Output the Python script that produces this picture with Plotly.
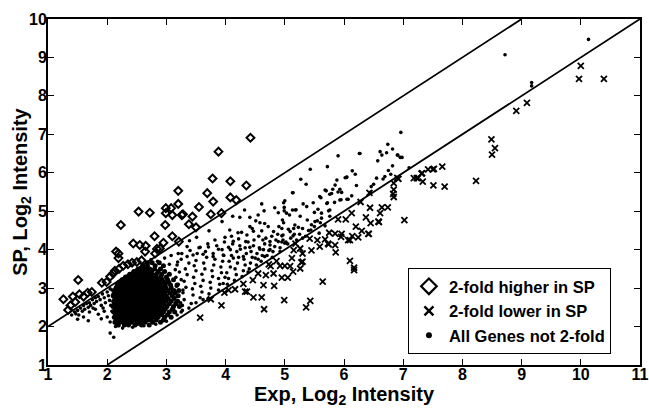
import plotly.graph_objects as go

# ---------------- data ----------------
# genes 2-fold higher in SP (open diamonds)
higher_pts = [
    (4.42, 6.91), (3.88, 6.55), (3.78, 5.85), (4.08, 5.78), (4.35, 5.67), (3.20, 5.53),
    (3.69, 5.47), (4.08, 5.36), (4.18, 5.29), (3.20, 5.19), (3.79, 5.25), (3.55, 5.11),
    (2.99, 5.08), (3.08, 5.08), (2.53, 4.99), (2.72, 4.96), (2.99, 4.95), (3.10, 4.90),
    (3.26, 4.90), (3.28, 4.92), (3.44, 4.86), (3.75, 4.92), (3.93, 4.95), (2.23, 4.64),
    (2.98, 4.64), (3.38, 4.66), (3.50, 4.58), (2.80, 4.35), (3.10, 4.35), (2.44, 4.16),
    (2.55, 4.12), (2.65, 4.10), (2.95, 4.18), (3.21, 4.21), (2.64, 3.95), (2.84, 4.02),
    (2.15, 3.95), (2.19, 3.90), (2.19, 3.78), (1.51, 3.21), (1.99, 3.16), (1.91, 3.14),
    (1.26, 2.71), (1.34, 2.43), (1.42, 2.78), (1.46, 2.64), (1.53, 2.84), (1.38, 2.55),
    (1.60, 2.78), (1.67, 2.88), (1.74, 2.90), (2.13, 3.45), (2.20, 3.50), (2.27, 3.58),
    (2.35, 3.62), (2.42, 3.66), (2.50, 3.68), (2.58, 3.72), (2.89, 4.03), (2.81, 3.90),
    (2.10, 3.38), (2.05, 3.30),
]

# genes 2-fold lower in SP (crosses)
lower_pts = [
    (10.00, 8.78), (9.97, 8.44), (10.39, 8.44), (9.09, 7.82), (8.91, 7.61), (8.49, 6.87),
    (8.55, 6.64), (8.50, 6.47), (8.23, 5.79), (7.66, 6.16), (7.52, 6.10), (7.42, 6.09),
    (7.32, 5.99), (7.23, 5.86), (7.18, 5.86), (7.33, 5.77), (7.51, 5.67), (7.70, 5.64),
    (6.92, 5.84), (6.90, 5.87), (6.84, 5.73), (6.84, 5.56), (6.83, 5.45), (6.84, 5.37),
    (6.43, 5.48), (6.28, 5.24), (6.44, 5.09), (6.64, 5.10), (6.74, 5.10), (7.02, 4.77),
    (6.61, 4.95), (6.59, 4.72), (6.45, 4.69), (6.42, 4.41), (6.37, 4.84), (6.30, 4.49),
    (6.20, 4.60), (6.13, 4.95), (6.14, 4.35), (6.10, 4.25), (6.24, 4.32), (6.03, 4.79),
    (5.90, 4.79), (5.96, 4.41), (5.85, 4.42), (5.75, 4.44), (5.73, 4.16), (5.85, 4.12),
    (5.86, 3.93), (5.68, 4.27), (6.10, 3.71), (6.17, 3.47), (5.64, 3.17), (5.43, 2.67),
    (5.36, 2.50), (4.99, 2.69), (4.65, 2.45), (4.47, 2.76), (4.61, 2.76), (4.95, 3.27),
    (5.05, 3.27), (4.82, 3.06), (5.14, 3.43), (5.26, 3.51), (5.30, 3.69), (4.68, 3.34),
    (4.55, 3.38), (4.46, 3.21), (4.64, 3.08), (4.30, 3.11), (4.33, 2.91), (4.81, 3.38),
    (4.92, 3.58), (5.00, 3.58), (4.76, 3.57), (3.57, 2.23), (3.93, 2.55), (3.75, 2.71),
    (4.16, 2.97), (4.36, 2.91), (7.31, 5.98), (7.50, 6.09), (7.25, 5.86), (6.58, 4.73),
    (6.41, 4.41), (6.07, 4.25), (5.95, 4.33), (5.74, 4.14), (5.59, 4.08), (5.55, 4.25),
    (5.42, 4.29), (5.30, 3.90), (5.26, 4.03), (5.15, 3.99), (5.45, 3.98), (5.18, 4.16),
    (5.12, 3.78), (5.28, 3.67), (6.17, 3.53), (4.86, 3.70), (5.09, 3.57), (4.73, 3.62),
    (3.98, 2.88), (4.05, 2.95),
]

# genes not 2-fold (dots): left tail
dots_tail = [
    (1.40, 2.30), (1.45, 2.38), (1.50, 2.42), (1.52, 2.30), (1.55, 2.48), (1.58, 2.40),
    (1.60, 2.55), (1.62, 2.45), (1.65, 2.60), (1.68, 2.50), (1.70, 2.62), (1.72, 2.55),
    (1.75, 2.70), (1.78, 2.60), (1.80, 2.75), (1.82, 2.65), (1.85, 2.78), (1.88, 2.70),
    (1.90, 2.55), (1.92, 2.85), (1.95, 2.75), (1.97, 2.62), (2.00, 2.90), (2.02, 2.80),
    (2.04, 2.68), (2.06, 2.55), (2.08, 2.95), (2.10, 2.85), (1.60, 2.25), (1.70, 2.38),
    (1.80, 2.45), (1.85, 2.32), (1.95, 2.40), (2.00, 2.25), (2.05, 2.12), (2.05, 1.83),
    (2.11, 1.72), (1.50, 2.19), (1.68, 2.15), (1.90, 2.20), (2.05, 2.98), (2.20, 2.02),
    (1.47, 2.33), (1.76, 2.48), (1.93, 2.48), (2.08, 2.40),
]

# dense core: (SP level of the row, Exp positions along it)
core_rows = [
    (2.04, [2.17, 2.29, 2.36, 2.47, 2.58, 2.71]),
    (2.11, [2.13, 2.21, 2.27, 2.33, 2.41, 2.50, 2.56, 2.64, 2.77, 2.90]),
    (2.17, [2.15, 2.19, 2.24, 2.30, 2.37, 2.43, 2.49, 2.54, 2.61, 2.68, 2.74, 2.83, 2.95]),
    (2.24, [2.12, 2.17, 2.22, 2.28, 2.34, 2.39, 2.45, 2.52, 2.57, 2.63, 2.70, 2.78, 2.86, 2.97, 3.08]),
    (2.31, [2.14, 2.20, 2.25, 2.31, 2.36, 2.42, 2.48, 2.54, 2.60, 2.66, 2.72, 2.79, 2.85, 2.92, 3.02]),
    (2.38, [2.11, 2.16, 2.22, 2.27, 2.33, 2.39, 2.44, 2.50, 2.56, 2.62, 2.68, 2.74, 2.81, 2.88, 2.95, 3.05, 3.14]),
    (2.45, [2.13, 2.19, 2.24, 2.30, 2.35, 2.41, 2.47, 2.53, 2.59, 2.64, 2.70, 2.77, 2.83, 2.90, 2.98, 3.10]),
    (2.52, [2.10, 2.16, 2.21, 2.27, 2.32, 2.38, 2.44, 2.50, 2.55, 2.61, 2.67, 2.73, 2.79, 2.86, 2.93, 3.01, 3.12, 3.22]),
    (2.59, [2.12, 2.18, 2.23, 2.29, 2.35, 2.40, 2.46, 2.52, 2.58, 2.63, 2.69, 2.75, 2.82, 2.89, 2.96, 3.05, 3.16]),
    (2.66, [2.11, 2.15, 2.21, 2.26, 2.32, 2.37, 2.43, 2.49, 2.55, 2.60, 2.66, 2.72, 2.78, 2.85, 2.92, 2.99, 3.08, 3.19]),
    (2.73, [2.13, 2.18, 2.24, 2.30, 2.35, 2.41, 2.47, 2.53, 2.58, 2.64, 2.70, 2.76, 2.82, 2.88, 2.95, 3.03, 3.13]),
    (2.80, [2.10, 2.16, 2.22, 2.27, 2.33, 2.39, 2.44, 2.50, 2.56, 2.62, 2.67, 2.73, 2.79, 2.86, 2.93, 3.00, 3.10, 3.20]),
    (2.87, [2.14, 2.20, 2.25, 2.31, 2.37, 2.42, 2.48, 2.54, 2.60, 2.65, 2.71, 2.77, 2.83, 2.90, 2.97, 3.06, 3.15]),
    (2.94, [2.12, 2.18, 2.23, 2.29, 2.34, 2.40, 2.46, 2.52, 2.57, 2.63, 2.69, 2.75, 2.81, 2.87, 2.94, 3.02, 3.11, 3.21]),
    (3.01, [2.15, 2.21, 2.27, 2.32, 2.38, 2.44, 2.49, 2.55, 2.61, 2.67, 2.73, 2.79, 2.85, 2.92, 2.99, 3.08]),
    (3.08, [2.17, 2.23, 2.29, 2.35, 2.41, 2.47, 2.53, 2.58, 2.64, 2.70, 2.76, 2.83, 2.90, 2.98, 3.07, 3.18]),
    (3.15, [2.20, 2.26, 2.32, 2.38, 2.44, 2.50, 2.56, 2.62, 2.68, 2.74, 2.81, 2.88, 2.96, 3.04]),
    (3.22, [2.25, 2.30, 2.35, 2.41, 2.47, 2.53, 2.59, 2.65, 2.71, 2.78, 2.85, 2.93, 3.02, 3.12]),
    (3.29, [2.31, 2.36, 2.41, 2.46, 2.51, 2.57, 2.63, 2.69, 2.76, 2.83, 2.91, 3.00]),
    (3.36, [2.38, 2.43, 2.48, 2.55, 2.61, 2.68, 2.75, 2.83, 2.92, 3.05]),
    (3.43, [2.45, 2.51, 2.57, 2.63, 2.69, 2.75, 2.86, 2.97]),
    (3.50, [2.52, 2.58, 2.65, 2.72, 2.80, 2.90]),
    (3.58, [2.60, 2.68, 2.81, 2.95]),
    (3.66, [2.68, 2.76, 2.88]),
]

# extra scattered dots on the rim of the core
dots_rim = [
    (2.14, 2.00), (2.26, 1.96), (2.43, 1.98), (2.62, 2.02), (2.82, 2.06), (3.00, 2.14),
    (3.18, 2.30), (3.27, 2.42), (3.24, 2.62), (3.28, 2.95), (3.25, 3.22), (3.15, 3.48),
    (3.05, 3.62), (2.97, 3.78), (3.08, 3.85), (2.85, 3.70), (2.74, 3.74), (3.19, 3.68),
    (2.21, 2.09), (2.52, 2.06), (2.96, 2.24), (3.12, 2.92), (3.17, 3.05), (2.47, 3.25),
    (2.58, 2.29), (2.69, 2.41), (2.83, 2.61), (2.91, 2.84), (2.99, 3.12), (2.38, 2.73),
]

# spread band between the fold lines
dots_band = [
    (3.12, 2.45), (3.15, 2.62), (3.18, 2.78), (3.14, 2.95), (3.20, 3.10), (3.16, 3.28), (3.22, 3.42),
    (3.18, 3.60), (3.25, 3.75), (3.20, 3.90), (3.27, 2.55), (3.30, 2.70), (3.28, 2.88), (3.33, 3.02),
    (3.30, 3.18), (3.35, 3.35), (3.32, 3.50), (3.38, 3.65), (3.35, 3.82), (3.40, 3.98), (3.42, 2.60),
    (3.45, 2.82), (3.44, 2.98), (3.48, 3.12), (3.46, 3.28), (3.50, 3.45), (3.47, 3.58), (3.50, 3.72),
    (3.52, 3.90), (3.55, 4.05), (3.25, 2.38), (3.38, 2.48), (3.50, 2.62), (3.57, 2.75), (3.60, 2.90),
    (3.58, 3.05), (3.62, 3.20), (3.60, 3.36), (3.65, 3.50), (3.63, 3.65), (3.68, 3.80), (3.66, 3.95),
    (3.70, 4.15), (3.72, 2.85), (3.75, 3.00), (3.74, 3.15), (3.78, 3.30), (3.77, 3.45), (3.80, 3.60),
    (3.82, 3.75), (3.79, 3.90), (3.85, 4.10), (3.88, 2.95), (3.90, 3.10), (3.88, 3.25), (3.93, 3.40),
    (3.92, 3.55), (3.95, 3.70), (3.97, 3.85), (3.94, 4.00), (3.98, 4.20), (3.96, 3.12), (3.99, 3.28),
    (3.70, 2.72), (3.62, 2.70), (4.03, 3.10), (4.05, 3.25), (4.02, 3.40), (4.08, 3.55), (4.06, 3.70),
    (4.10, 3.85), (4.08, 4.00), (4.12, 4.15), (4.10, 4.35), (4.15, 3.20), (4.18, 3.35), (4.16, 3.50),
    (4.20, 3.65), (4.22, 3.80), (4.19, 3.95), (4.24, 4.10), (4.22, 4.28), (4.27, 4.45), (4.28, 3.30),
    (4.30, 3.45), (4.33, 3.60), (4.31, 3.75), (4.35, 3.90), (4.33, 4.05), (4.38, 4.20), (4.36, 4.38),
    (4.40, 3.50), (4.42, 3.65), (4.45, 3.80), (4.43, 3.95), (4.47, 4.10), (4.48, 4.25), (4.45, 4.55),
    (4.38, 3.42), (4.52, 3.60), (4.55, 3.75), (4.53, 3.90), (4.57, 4.05), (4.56, 4.35), (4.60, 3.70),
    (4.62, 3.85), (4.64, 4.00), (4.66, 4.15), (4.68, 4.30), (4.70, 3.85), (4.73, 3.98), (4.75, 4.12),
    (4.78, 4.35), (4.80, 3.95), (4.83, 4.08), (4.85, 4.25), (4.88, 4.40), (4.90, 4.60), (4.92, 4.05),
    (4.95, 4.20), (4.97, 4.38), (4.98, 4.70), (5.13, 5.48), (4.98, 5.22), (4.99, 5.10), (4.83, 5.09),
    (4.89, 4.96), (5.03, 4.95), (5.19, 5.04), (4.61, 5.19), (4.65, 5.01), (4.55, 4.90), (4.12, 4.87),
    (4.24, 4.84), (4.32, 5.03), (4.41, 4.84), (3.94, 4.73), (4.51, 4.75), (4.58, 4.70), (4.66, 4.68),
    (4.72, 4.60), (4.41, 4.60), (4.07, 4.51), (3.72, 4.49), (4.21, 4.44), (4.61, 4.49), (4.47, 4.48),
    (4.81, 4.47), (4.95, 4.55), (5.09, 4.47), (5.16, 4.40), (3.51, 4.32), (3.82, 4.25), (3.99, 4.32),
    (4.13, 4.22), (4.34, 4.21), (4.63, 4.25), (4.75, 4.21), (4.89, 4.21), (5.00, 4.17), (3.39, 4.23),
    (3.35, 4.08), (3.57, 4.06), (3.71, 4.07), (3.88, 4.01), (4.05, 4.06), (4.25, 4.01), (4.41, 4.06),
    (4.58, 4.01), (4.75, 4.00), (4.92, 3.95), (3.26, 3.90), (3.45, 3.86), (3.62, 3.88), (3.79, 3.82),
    (3.96, 3.86), (4.13, 3.78), (4.30, 3.82), (4.50, 3.78), (4.66, 3.82), (4.97, 4.25), (4.79, 3.80),
    (5.05, 4.15), (5.10, 4.30), (5.15, 4.55), (5.20, 4.25), (5.25, 4.40), (5.30, 4.55), (5.35, 4.35),
    (5.40, 4.50), (5.45, 4.65), (5.50, 4.60), (5.55, 4.75), (5.60, 4.70), (5.62, 4.95),
]

# sparse upper part of the band
dots_upper = [
    (6.96, 7.05), (6.74, 6.74), (6.61, 6.55), (6.64, 6.46), (6.72, 6.52), (6.82, 6.62), (6.90, 6.46),
    (6.95, 6.40), (6.57, 6.31), (6.26, 6.50), (5.90, 6.44), (5.72, 6.16), (5.43, 6.09), (6.14, 6.05),
    (6.19, 5.96), (5.27, 5.83), (5.36, 5.70), (6.02, 5.87), (6.05, 5.89), (5.88, 5.81), (6.21, 5.67),
    (6.55, 5.86), (6.66, 5.84), (6.79, 5.96), (7.10, 6.13), (5.70, 5.53), (5.81, 5.57), (5.93, 5.57),
    (5.96, 5.49), (5.14, 5.48), (5.59, 5.38), (5.76, 5.44), (6.07, 5.31), (6.45, 5.50), (6.50, 5.70),
    (5.00, 5.27), (5.61, 5.35), (5.48, 5.22), (5.31, 5.19), (5.71, 5.20), (5.93, 5.29), (4.99, 5.01),
    (5.13, 5.03), (5.18, 5.03), (5.37, 5.12), (5.56, 5.05), (5.74, 5.01), (5.50, 4.97), (4.96, 4.77),
    (5.08, 4.90), (5.26, 4.87), (5.38, 4.77), (5.51, 4.73), (5.62, 4.82), (5.76, 4.87), (5.17, 4.64),
    (5.23, 4.58), (5.06, 4.53), (5.44, 4.51), (5.68, 4.62), (5.58, 4.43), (4.95, 4.36), (5.14, 4.36),
    (5.30, 4.30), (5.02, 4.20), (6.27, 6.50), (6.46, 5.64), (6.69, 5.90), (6.75, 6.06), (6.82, 6.18),
    (6.98, 6.40), (6.91, 6.46), (5.85, 5.68), (6.04, 5.88), (5.68, 5.55), (5.79, 5.46), (5.90, 5.50),
    (6.13, 5.40), (6.05, 5.31), (5.95, 5.30), (5.84, 5.23), (5.72, 5.22), (5.76, 5.03),
    (8.72, 9.07), (10.13, 9.47), (9.17, 8.35), (9.17, 8.26),
]

# reference lines for the 2-fold boundaries
upper_x, upper_y = [1, 9], [2, 10]
lower_x, lower_y = [2, 11], [1, 10]

x_ticks = list(range(1, 12))
y_ticks = list(range(1, 11))

legend_names = ["2-fold higher in SP", "2-fold lower in SP", "All Genes not 2-fold"]

# ---------------- build figure ----------------
sparse = dots_tail + dots_rim + dots_band + dots_upper
sparse_x = [p[0] for p in sparse]
sparse_y = [p[1] for p in sparse]
core_x, core_y = [], []
for yv, xs in core_rows:
    core_x += xs
    core_y += [yv] * len(xs)

FONT = "Liberation Sans, Arial, sans-serif"
BLACK = "black"

fig = go.Figure()
for lx, ly in ((upper_x, upper_y), (lower_x, lower_y)):
    fig.add_trace(go.Scatter(x=lx, y=ly, mode="lines", line=dict(color=BLACK, width=1.8),
                             showlegend=False, hoverinfo="skip"))
fig.add_trace(go.Scatter(x=core_x, y=core_y, mode="markers", showlegend=False,
                         marker=dict(symbol="circle", size=5, color=BLACK, line=dict(width=0))))
fig.add_trace(go.Scatter(x=sparse_x, y=sparse_y, mode="markers", showlegend=False,
                         marker=dict(symbol="circle", size=3.6, color=BLACK, line=dict(width=0))))
fig.add_trace(go.Scatter(x=[p[0] for p in higher_pts], y=[p[1] for p in higher_pts], mode="markers",
                         showlegend=False,
                         marker=dict(symbol="diamond-open", size=6, color=BLACK, line=dict(width=2))))
fig.add_trace(go.Scatter(x=[p[0] for p in lower_pts], y=[p[1] for p in lower_pts], mode="markers",
                         showlegend=False,
                         marker=dict(symbol="x-thin-open", size=6, color=BLACK, line=dict(width=1.8))))

# legend entries (bigger symbols, as in the reference legend)
legend_markers = [
    dict(symbol="diamond-open", size=12, color=BLACK, line=dict(width=2.2)),
    dict(symbol="x-thin-open", size=9, color=BLACK, line=dict(width=2.4)),
    dict(symbol="circle", size=6, color=BLACK, line=dict(width=0)),
]
for name, mk in zip(legend_names, legend_markers):
    fig.add_trace(go.Scatter(x=[None], y=[None], mode="markers", name=f"<b>{name}</b>", marker=mk))

axis_common = dict(showgrid=False, zeroline=False, showline=True, linecolor=BLACK, linewidth=2,
                   mirror="ticks", ticks="inside", ticklen=6, tickcolor=BLACK, tickwidth=1,
                   automargin=False,
                   tickfont=dict(family=FONT, size=16, color=BLACK))

fig.update_xaxes(range=[1, 11], tickvals=x_ticks, ticktext=[f"<b>{v}</b>" for v in x_ticks],
                 ticklabelstandoff=-6, **axis_common)
fig.update_yaxes(range=[1, 10], tickvals=y_ticks, ticktext=[f"<b>{v}</b>" for v in y_ticks],
                 ticklabelstandoff=-4, **axis_common)

fig.update_layout(
    width=649, height=411,
    margin=dict(l=48, r=9, t=19, b=46, autoexpand=False),
    paper_bgcolor="white", plot_bgcolor="white",
    showlegend=True,
    legend=dict(x=0.608, y=0.28, xanchor="left", yanchor="top",
                bgcolor="white", bordercolor=BLACK, borderwidth=1,
                font=dict(family=FONT, size=16.5, color=BLACK),
                itemsizing="trace", itemwidth=30, tracegroupgap=0),
    annotations=[
        dict(text="<b>Exp, Log<sub>2</sub> Intensity</b>", xref="paper", yref="paper",
             x=0.5, y=-0.088, xanchor="center", yanchor="middle", showarrow=False,
             font=dict(family=FONT, size=20, color=BLACK)),
        dict(text="<b>SP, Log<sub>2</sub> Intensity</b>", xref="paper", yref="paper",
             x=-0.046, y=0.5, xanchor="center", yanchor="middle", showarrow=False, textangle=-90,
             font=dict(family=FONT, size=20, color=BLACK)),
    ],
)

fig.write_html("out.html", config={"displayModeBar": False},
               post_script="document.body.style.margin='0px';")
